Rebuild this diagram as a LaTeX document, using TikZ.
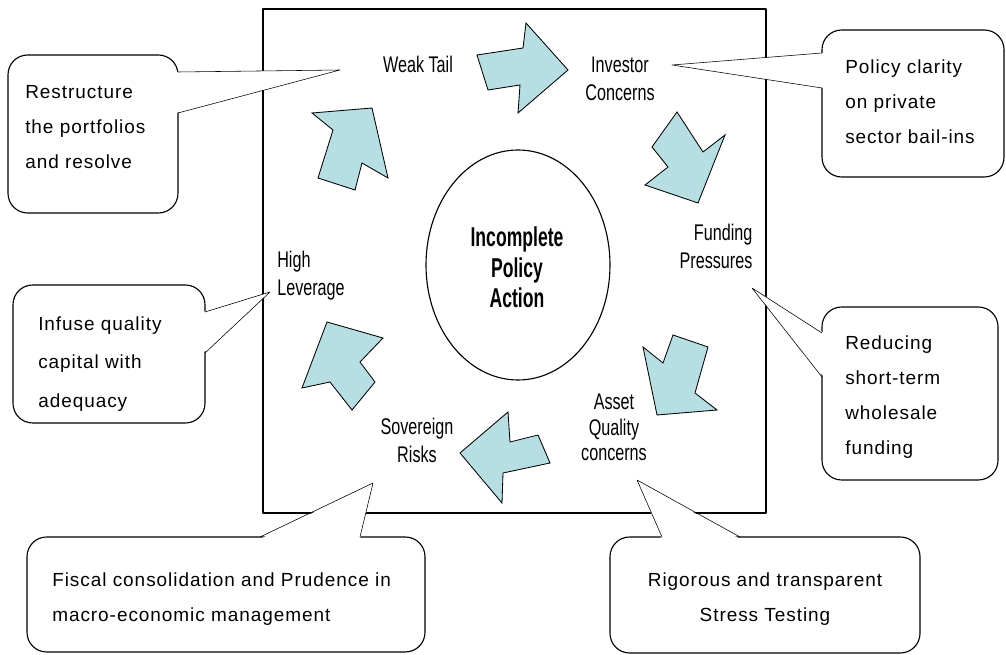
\documentclass[tikz,border=0pt]{standalone}
\usepackage{fontspec}
\setmainfont{Liberation Sans}
\newfontfamily\notefont[LetterSpace=5]{Liberation Sans}
\definecolor{arrowblue}{RGB}{183,222,227}
\newcommand{\tallbox}[3][1.4]{\scalebox{1}[#1]{\begin{tabular}{@{}#2@{}}#3\end{tabular}}}
\tikzset{
  lbl/.style={inner sep=0pt,font=\fontsize{11.5}{14}\selectfont},
  note/.style={align=left,anchor=west,inner sep=0pt,font=\notefont\fontsize{13.5}{25}\selectfont},
  bubble/.style={draw,fill=white,rounded corners=14pt,line width=0.8pt},
  cycarrow/.style={draw,fill=arrowblue,line width=0.6pt,line join=miter}
}
\begin{document}
\begin{tikzpicture}[x=0.025cm,y=-0.025cm,line join=round]
\useasboundingbox (0,0) rectangle (1006,655);
% frame and centre
\draw[line width=0.9pt] (263,9) rectangle (766,513);
\draw[line width=0.8pt] (518,265) ellipse (92 and 115);
\node[inner sep=0pt,font=\bfseries\fontsize{12.5}{14}\selectfont] (core) at (517,271) {\tallbox[1.55]{c}{Incomplete\\Policy\\Action}};
% cycle labels
\node[lbl] (weak) at (418,67) {\tallbox{c}{Weak Tail}};
\node[lbl] (inv) at (620,81) {\tallbox{c}{Investor\\Concerns}};
\node[lbl] (fund) at (716,249) {\tallbox{r}{Funding\\Pressures}};
\node[lbl,font=\fontsize{11.5}{12.8}\selectfont] (asset) at (614,430) {\tallbox{c}{Asset\\Quality\\concerns}};
\node[lbl] (sov) at (417,443) {\tallbox{c}{Sovereign\\Risks}};
\node[lbl] (lev) at (311,276) {\tallbox{l}{High\\Leverage}};
% block arrows
\draw[cycarrow] (477,55)--(523,48)--(526,23)--(568,70)--(518,113)--(520,85)--(488,90)--cycle;
\draw[cycarrow] (677,112)--(703,152)--(725,135)--(698,203)--(645,185)--(668,167)--(652,147)--cycle;
\draw[cycarrow] (673,335)--(708,347)--(695,393)--(717,410)--(657,415)--(643,347)--(663,363)--cycle;
\draw[cycarrow] (538,435)--(510,442)--(508,412)--(460,453)--(502,503)--(503,473)--(550,463)--cycle;
\draw[cycarrow] (327,322)--(383,338)--(360,362)--(375,382)--(352,410)--(330,382)--(302,388)--cycle;
\draw[cycarrow] (372,108)--(388,178)--(362,163)--(355,190)--(318,178)--(333,130)--(312,113)--cycle;
% tail tips
\coordinate (t1) at (340,70);
\coordinate (t2) at (672,65);
\coordinate (t3) at (270,292);
\coordinate (t4) at (752,288);
\coordinate (t5) at (373,483);
\coordinate (t6) at (637,480);
% callouts
\draw[bubble] (8,55) rectangle (178,213);
\fill[white] (176,72)--(t1)--(176,113)--cycle;
\draw (178,72)--(t1)--(178,113);
\node[note] (n1) at (25,127) {Restructure\\the portfolios\\and resolve};

\draw[bubble] (822,30) rectangle (1004,177);
\fill[white] (824,53)--(t2)--(824,88)--cycle;
\draw (822,53)--(t2)--(822,88);
\node[note] (n2) at (845,102) {Policy clarity\\on private\\sector bail-ins};

\draw[bubble] (13,285) rectangle (205,423);
\fill[white] (203,312)--(t3)--(203,353)--cycle;
\draw (205,312)--(t3)--(205,353);
\node[note,font=\notefont\fontsize{13.5}{27.5}\selectfont] (n3) at (38,364) {Infuse quality\\capital with\\adequacy};

\draw[bubble] (822,307) rectangle (998,480);
\fill[white] (824,333)--(t4)--(824,377)--cycle;
\draw (822,333)--(t4)--(822,377);
\node[note] (n4) at (845,397) {Reducing\\short-term\\wholesale\\funding};

\draw[bubble] (27,537) rectangle (425,652);
\fill[white] (260,539)--(t5)--(360,539)--cycle;
\draw (260,537)--(t5)--(360,537);
\node[note] (n5) at (52,599) {Fiscal consolidation and Prudence in\\macro-economic management};

\draw[bubble] (610,537) rectangle (920,653);
\fill[white] (662,539)--(t6)--(740,539)--cycle;
\draw (662,537)--(t6)--(740,537);
\node[note,anchor=center,align=center] (n6) at (765,599) {Rigorous and transparent\\Stress Testing};
\end{tikzpicture}
\end{document}
